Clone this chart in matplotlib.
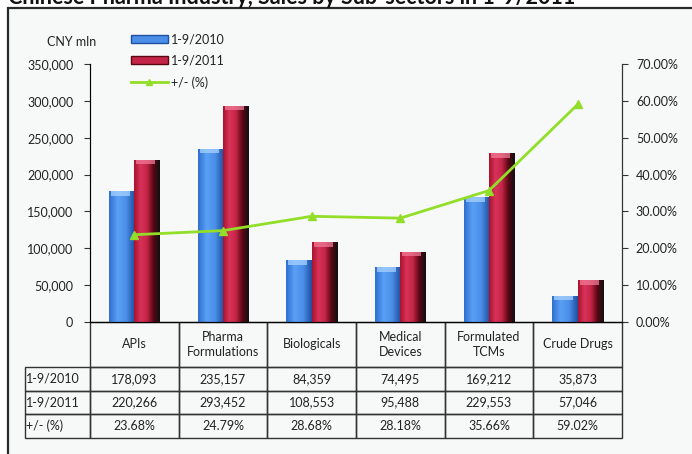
import numpy as np
import matplotlib
matplotlib.use('agg')
import matplotlib.pyplot as plt
from matplotlib.colors import LinearSegmentedColormap
from matplotlib.patches import Rectangle
from matplotlib.table import Table
from matplotlib.ticker import FuncFormatter
from matplotlib.lines import Line2D

# sales by sub-sector, CNY mln
sectors = ['APIs', 'Pharma\nFormulations', 'Biologicals', 'Medical\nDevices',
           'Formulated\nTCMs', 'Crude Drugs']
sales_2010 = [178093, 235157, 84359, 74495, 169212, 35873]
sales_2011 = [220266, 293452, 108553, 95488, 229553, 57046]
growth = [23.68, 24.79, 28.68, 28.18, 35.66, 59.02]
row_names = ['1-9/2010', '1-9/2011', '+/- (%)']

plt.rcParams['font.family'] = ['Lato', 'DejaVu Sans']
txt = '#222222'

fig = plt.figure(figsize=(6.92, 4.54), dpi=100)
fig.patch.set_facecolor('white')
# panel frame
fig.patches.append(Rectangle((8 / 692, -0.1), 1.2, 1 - 8 / 454 + 0.1, transform=fig.transFigure,
                             facecolor='#f7f9f9', edgecolor='#2a2a2a', lw=1.6, zorder=-5))
fig.text(0.012, 1 - 4 / 454, 'Chinese Pharma Industry, Sales by Sub-sectors in 1-9/2011',
         fontsize=15.5, fontweight='bold', color='#111111', va='baseline')

ax = fig.add_axes([90 / 692, 1 - 322 / 454, 532 / 692, 258 / 454])
ax.set_facecolor('none')
x = np.arange(len(sectors))
bw = 0.285

blue_cm = LinearSegmentedColormap.from_list('b', ['#2f6fd0', '#5aa0f6', '#4a8ee8', '#1f4fa0'])
red_cm = LinearSegmentedColormap.from_list('r', ['#a8142f', '#d93358', '#c42448', '#5a0714', '#111111'])


def shade(bars, cmap, cap):
    for b in bars:
        bx, by = b.get_xy()
        w, h = b.get_width(), b.get_height()
        im = ax.imshow(np.linspace(0, 1, 64)[None, :], extent=[bx, bx + w, by, by + h],
                       aspect='auto', cmap=cmap, zorder=2)
        im.set_clip_path(b)
        ax.add_patch(Rectangle((bx + w * 0.08, h - 6500), w * 0.75, 6500, facecolor=cap,
                               edgecolor='none', alpha=0.75, zorder=2.5))


b1 = ax.bar(x - bw / 2, sales_2010, bw, color='#4a8ee8', edgecolor='none', zorder=2)
b2 = ax.bar(x + bw / 2, sales_2011, bw, color='#c42448', edgecolor='none', zorder=2)
shade(b1, blue_cm, '#a9d2ff')
shade(b2, red_cm, '#f07a96')

ax.set_xlim(-0.5, len(sectors) - 0.5)
ax.set_ylim(0, 350000)
ax.set_yticks(np.arange(0, 350001, 50000))
ax.yaxis.set_major_formatter(FuncFormatter(lambda v, p: f'{int(v):,}'))
ax.set_xticks([])
ax.spines['top'].set_visible(False)
for s in ['left', 'bottom', 'right']:
    ax.spines[s].set_color('#333333')
ax.tick_params(axis='y', direction='out', length=4, color='#333333', labelsize=9,
               labelcolor=txt, pad=8)

ax2 = ax.twinx()
ax2.plot(x, growth, color='#92de28', lw=2, marker='^', ms=6, zorder=4)
ax2.set_ylim(0, 70)
ax2.set_yticks(np.arange(0, 71, 10))
ax2.yaxis.set_major_formatter(FuncFormatter(lambda v, p: f'{v:.2f}%'))
ax2.spines['top'].set_visible(False)
ax2.spines['right'].set_color('#333333')
ax2.tick_params(axis='y', direction='out', length=4, color='#333333', labelsize=9,
                labelcolor=txt, pad=6)

fig.text(72 / 692, 1 - 42 / 454, 'CNY mln', fontsize=9, color=txt, ha='center', va='center')

handles = [Rectangle((0, 0), 1, 1, facecolor='#4a8ee8', edgecolor='#1f4fa0'),
           Rectangle((0, 0), 1, 1, facecolor='#c42448', edgecolor='#5a0714'),
           Line2D([], [], color='#92de28', lw=2, marker='^', ms=5)]
fig.legend(handles, ['1-9/2010', '1-9/2011', '+/- (%)'], loc='upper left',
           bbox_to_anchor=(120 / 692, 1 - 22 / 454), frameon=False, fontsize=9,
           handlelength=2.9, handleheight=0.55, labelspacing=0.75, handletextpad=0.3,
           labelcolor=txt)

# data table below the plot
tbl = Table(ax, bbox=[-65 / 532, -116 / 258, 597 / 532, 116 / 258])
lab_w, col_w = 65, 88.7
head_h, row_h = 45, 23.7
cells = [[f'{v:,}' for v in sales_2010], [f'{v:,}' for v in sales_2011],
         [f'{v:.2f}%' for v in growth]]
corner = tbl.add_cell(0, 0, lab_w, head_h, text='')
corner.visible_edges = ''
for j, name in enumerate(sectors):
    tbl.add_cell(0, j + 1, col_w, head_h, text=name, loc='center')
for i, rn in enumerate(row_names):
    c = tbl.add_cell(i + 1, 0, lab_w, row_h, text=rn, loc='left')
    c.PAD = 0.02
    for j, v in enumerate(cells[i]):
        tbl.add_cell(i + 1, j + 1, col_w, row_h, text=v, loc='center')
tbl.auto_set_font_size(False)
tbl.set_fontsize(9)
for c in tbl.get_celld().values():
    c.set_facecolor('none')
    c.set_edgecolor('#333333')
    c.set_linewidth(1)
    c.get_text().set_color(txt)
    c.get_text().set_linespacing(1.3)
ax.add_table(tbl)

fig.savefig('out.png', dpi=100)
